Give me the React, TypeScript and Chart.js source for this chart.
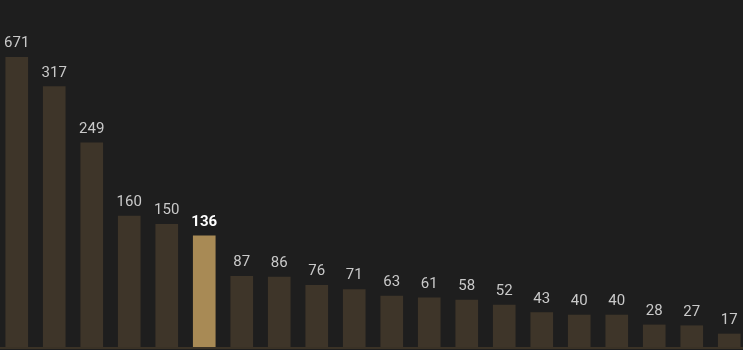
import React, { useEffect, useRef } from "react";
import { Chart, registerables } from "chart.js";

Chart.register(...registerables);

const categories = ["A1", "A2", "A3", "A4", "A5", "A6", "A7", "A8", "A9", "A10", "A11", "A12", "A13", "A14", "A15", "A16", "A17", "A18", "A19", "A20"];
const values = [671, 317, 249, 160, 150, 136, 87, 86, 76, 71, 63, 61, 58, 52, 43, 40, 40, 28, 27, 17];
const highlightIndex = 5;
const yMax = 353;

const BG = "#1e1e1e";
const BAR = "#3e3529";
const BAR_HI = "#a88a55";
const LABEL = "#c9c9c9";
const LABEL_HI = "#ffffff";

const labelPlugin = {
  id: "barLabels",
  afterDatasetsDraw(chart: any) {
    const { ctx, chartArea } = chart;
    const meta = chart.getDatasetMeta(0);
    const yScale = chart.scales.y;
    ctx.save();
    const base = yScale.getPixelForValue(0);
    ctx.strokeStyle = "#3a3226";
    ctx.lineWidth = 2;
    ctx.beginPath();
    ctx.moveTo(chartArea.left, base);
    ctx.lineTo(chartArea.right, base);
    ctx.stroke();
    ctx.textAlign = "center";
    ctx.textBaseline = "alphabetic";
    meta.data.forEach((bar: any, i: number) => {
      const hi = i === highlightIndex;
      ctx.font = (hi ? "bold " : "") + "15px Roboto";
      ctx.fillStyle = hi ? LABEL_HI : LABEL;
      const top = Math.max(bar.y, chartArea.top);
      ctx.fillText(String(values[i]), bar.x, top - 10);
    });
    ctx.restore();
  },
};

export default function App() {
  const ref = useRef<HTMLCanvasElement | null>(null);
  useEffect(() => {
    document.body.style.margin = "0";
    document.body.style.background = BG;
    const chart = new Chart(ref.current as HTMLCanvasElement, {
      type: "bar",
      data: {
        labels: categories,
        datasets: [
          {
            data: values,
            backgroundColor: values.map((_, i) => (i === highlightIndex ? BAR_HI : BAR)),
            barThickness: 22,
            borderWidth: 0,
          },
        ],
      },
      options: {
        animation: false,
        responsive: true,
        maintainAspectRatio: false,
        layout: { padding: { top: 57, bottom: 2, left: 0, right: 0 } },
        plugins: { legend: { display: false }, tooltip: { enabled: false } },
        scales: {
          x: { display: false, grid: { display: false } },
          y: { display: false, min: 0, max: yMax },
        },
      },
      plugins: [labelPlugin],
    });
    return () => chart.destroy();
  }, []);
  return (
    <div style={{ position: "fixed", left: 0, top: 0, width: 743, height: 350, overflow: "hidden", background: BG }}>
      <div style={{ position: "absolute", left: -2, top: 0, width: 750, height: 350 }}>
        <canvas ref={ref} />
      </div>
    </div>
  );
}
